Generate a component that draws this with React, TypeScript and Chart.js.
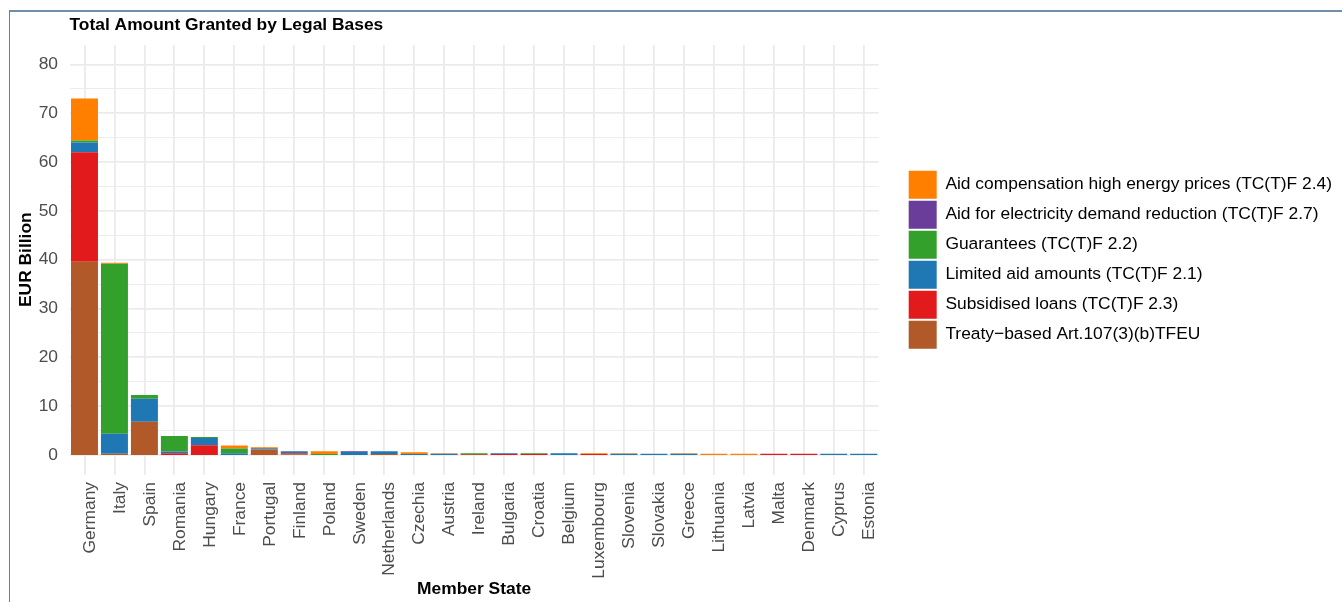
import React, { useEffect, useRef } from "react";
import { Chart, registerables } from "chart.js";

Chart.register(...registerables);

const FONT = "'Liberation Sans', Arial, Helvetica, sans-serif";

const memberStates = [
  "Germany", "Italy", "Spain", "Romania", "Hungary", "France", "Portugal",
  "Finland", "Poland", "Sweden", "Netherlands", "Czechia", "Austria", "Ireland",
  "Bulgaria", "Croatia", "Belgium", "Luxembourg", "Slovenia", "Slovakia",
  "Greece", "Lithuania", "Latvia", "Malta", "Denmark", "Cyprus", "Estonia",
];

// Amounts in EUR billion, one value per member state (same order as memberStates)
const treatyBased = [39.6, 0.27, 6.8, 0, 0, 0, 1.1, 0.14, 0, 0, 0.2, 0, 0, 0.22, 0, 0, 0, 0, 0, 0, 0, 0, 0, 0, 0, 0, 0];
const subsidisedLoans = [22.4, 0, 0, 0.35, 2.0, 0, 0, 0.2, 0, 0, 0, 0, 0, 0, 0.22, 0.22, 0, 0.22, 0, 0, 0, 0, 0, 0.25, 0.25, 0, 0];
const limitedAid = [2.0, 4.1, 4.7, 0.35, 1.5, 0.35, 0.27, 0.41, 0, 0.62, 0.55, 0.2, 0.27, 0, 0.13, 0, 0.36, 0, 0.27, 0.25, 0.27, 0, 0, 0, 0, 0.25, 0.25];
const guarantees = [0.4, 34.8, 0.8, 3.2, 0.2, 1.0, 0, 0, 0.2, 0, 0, 0, 0, 0.13, 0, 0.13, 0, 0, 0, 0, 0, 0, 0, 0, 0, 0, 0];
const demandReduction = [0, 0, 0, 0, 0, 0, 0, 0, 0, 0.14, 0, 0, 0, 0, 0, 0, 0, 0, 0, 0, 0, 0, 0, 0, 0, 0, 0];
const energyPrices = [8.6, 0.2, 0, 0, 0, 0.6, 0.2, 0, 0.55, 0, 0, 0.34, 0.08, 0, 0, 0, 0, 0.13, 0.08, 0, 0.1, 0.25, 0.25, 0, 0, 0, 0];

// Stacked bottom to top
const seriesLabels = [
  "Treaty\u2212based Art.107(3)(b)TFEU",
  "Subsidised loans (TC(T)F 2.3)",
  "Limited aid amounts (TC(T)F 2.1)",
  "Guarantees (TC(T)F 2.2)",
  "Aid for electricity demand reduction (TC(T)F 2.7)",
  "Aid compensation high energy prices (TC(T)F 2.4)",
];
const seriesValues = [treatyBased, subsidisedLoans, limitedAid, guarantees, demandReduction, energyPrices];
const seriesColors = ["#B15928", "#E31A1C", "#1F78B4", "#33A02C", "#6A3D9A", "#FF7F00"];

// Horizontal grid lines every 5, labels every 10
const yGridValues = [0, 5, 10, 15, 20, 25, 30, 35, 40, 45, 50, 55, 60, 65, 70, 75, 80];
const yLabelValues = [0, 10, 20, 30, 40, 50, 60, 70, 80];

export default function App() {
  const canvasRef = useRef<HTMLCanvasElement>(null);

  useEffect(() => {
    const canvas = canvasRef.current;
    if (!canvas) return;
    const chart = new Chart(canvas, {
      type: "bar",
      data: {
        labels: memberStates,
        datasets: seriesLabels.map((label, i) => ({
          label,
          data: seriesValues[i],
          backgroundColor: seriesColors[i],
          borderWidth: 0,
          barPercentage: 0.9,
          categoryPercentage: 1,
          yAxisID: "y",
        })),
      },
      options: {
        responsive: false,
        animation: false,
        devicePixelRatio: 1,
        layout: { padding: { left: 0, right: 0, top: 0, bottom: 0 } },
        plugins: {
          tooltip: { enabled: false },
          title: {
            display: true,
            text: "Total Amount Granted by Legal Bases",
            align: "start",
            fullSize: false,
            color: "#000000",
            font: { family: FONT, size: 17.4, weight: "bold" },
            padding: { top: 15, bottom: 9 },
          },
          legend: {
            display: true,
            position: "right",
            align: "center",
            fullSize: false,
            reverse: true,
            maxWidth: 600,
            labels: {
              boxWidth: 28,
              boxHeight: 28,
              padding: 2,
              color: "#000000",
              font: { family: FONT, size: 17.4 },
            },
          },
        },
        scales: {
          x: {
            stacked: true,
            offset: true,
            grid: { color: "#EBEBEB", lineWidth: 1.8, offset: false, drawTicks: false },
            border: { display: false },
            ticks: {
              autoSkip: false,
              minRotation: 90,
              maxRotation: 90,
              padding: 7.5,
              labelOffset: 5.5,
              color: "#4D4D4D",
              font: { family: FONT, size: 17.4 },
            },
            title: {
              display: true,
              text: "Member State",
              color: "#000000",
              font: { family: FONT, size: 17.4, weight: "bold" },
              padding: { top: 0, bottom: 2 },
            },
            afterFit: (scale: any) => {
              scale.height = 127.5;
            },
          },
          y: {
            stacked: true,
            position: "left",
            min: -4,
            max: 84,
            grid: {
              color: "#EBEBEB",
              lineWidth: (ctx: any) =>
                yLabelValues.includes(Math.round(ctx.tick?.value ?? 1)) ? 1.8 : 0.9,
              drawTicks: false,
            },
            border: { display: false },
            ticks: {
              padding: 11.5,
              color: "#4D4D4D",
              font: { family: FONT, size: 17.4 },
              callback: (v: any) => {
                const r = Math.round(Number(v));
                return yLabelValues.includes(r) ? String(r) : "";
              },
            },
            afterBuildTicks: (scale: any) => {
              // The baseline grid line sits a hair below zero so the bars are
              // painted over it in full instead of being trimmed by half its width.
              scale.ticks = yGridValues.map((value) => ({ value: value === 0 ? -1e-6 : value }));
            },
            title: {
              display: true,
              text: "EUR Billion",
              color: "#000000",
              font: { family: FONT, size: 17.4, weight: "bold" },
              padding: { top: 16, bottom: 0 },
            },
            afterFit: (scale: any) => {
              scale.width = 69.5;
            },
          },
          gap: {
            type: "linear",
            position: "right",
            display: true,
            grid: { display: false },
            border: { display: false },
            ticks: { display: false },
            afterFit: (scale: any) => {
              scale.width = 28;
            },
          },
        },
      },
    } as any);
    return () => chart.destroy();
  }, []);

  return (
    <div style={{ position: "absolute", left: 0, top: 0, width: 1342, height: 602, overflow: "hidden", background: "#ffffff" }}>
      <div
        style={{
          position: "absolute",
          left: 9,
          top: 10,
          width: 1342,
          height: 602,
          borderTop: "2px solid #7090aa",
          borderLeft: "1.5px solid #5f83a3",
        }}
      />
      <canvas ref={canvasRef} width={1342} height={602} style={{ position: "absolute", left: 0, top: 0 }} />
    </div>
  );
}
